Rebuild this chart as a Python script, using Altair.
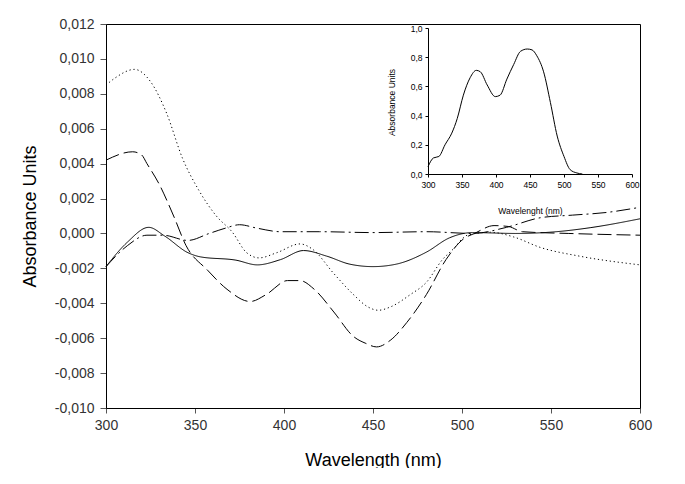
import altair as alt
import pandas as pd

# ---- main spectra (difference spectra) ----
wl_solid = [300, 312, 324, 333, 346, 353, 373, 385, 398, 411, 424, 437, 450, 463, 480, 493, 506, 530, 553, 572, 600]
ab_solid = [-0.0019, -0.0005, 0.00035, -0.00015, -0.0011, -0.00134, -0.00153, -0.0018, -0.0015, -0.00098, -0.0013,
            -0.00176, -0.0019, -0.00176, -0.00107, -0.00025, 0.00005, 0.0, 0.0001, 0.00033, 0.00084]

wl_dot = [300, 305, 316, 325, 334, 343, 352, 362, 371, 379, 386, 396, 409, 416, 428, 439, 447, 453, 460, 471, 480,
          489, 495, 503, 516, 529, 544, 566, 600]
ab_dot = [0.0085, 0.0089, 0.0094, 0.0087, 0.0069, 0.0043, 0.0025, 0.0010, 0.00007, -0.0011, -0.0014, -0.0011, -0.0006,
          -0.0009, -0.0023, -0.0035, -0.0042, -0.0044, -0.0042, -0.0035, -0.0028, -0.0015, -0.0009, -0.0001, 0.00007,
          -0.0002, -0.0008, -0.0013, -0.0018]

wl_dash = [300, 315, 320, 323, 330, 338, 345, 357, 368, 381, 390, 402, 409, 417, 428, 439, 446, 452, 460, 469, 480,
           491, 501, 507, 518, 526, 534, 560, 600]
ab_dash = [0.0042, 0.00468, 0.0045, 0.0040, 0.0028, 0.0010, -0.0007, -0.0021, -0.0032, -0.0039, -0.0035, -0.0027,
           -0.0027, -0.0032, -0.0045, -0.0059, -0.0063, -0.0065, -0.0061, -0.0051, -0.0035, -0.0015, -0.0003, 0.0,
           0.00045, 0.0004, 0.0001, 0.0, -0.0001]

wl_dashdot = [300, 312, 323, 332, 346, 358, 367, 375, 385, 398, 420, 450, 480, 506, 525, 544, 562, 581, 600]
ab_dashdot = [-0.0019, -0.0007, -0.0001, -0.0001, -0.0004, 0.0, 0.0003, 0.0005, 0.0003, 0.0001, 0.0001, 0.00005,
              0.0001, 0.0, 0.00035, 0.0009, 0.00105, 0.0012, 0.0015]

# ---- inset absorbance spectrum ----
wl_inset = [300, 308, 316, 325, 335, 343, 352, 362, 371, 377, 387, 399, 406, 416, 426, 436, 446, 453, 460, 470, 480,
            490, 500, 509, 519, 527]
ab_inset = [0.05, 0.11, 0.12, 0.20, 0.28, 0.38, 0.54, 0.66, 0.71, 0.70, 0.61, 0.53, 0.54, 0.65, 0.75, 0.84, 0.856,
            0.85, 0.81, 0.70, 0.49, 0.26, 0.12, 0.03, 0.007, 0.0]

series_names = ["solid", "dotted", "dashed", "dashdot"]
dash_patterns = [[1, 0], [1.2, 2.8], [14, 5], [14, 4, 2, 4]]

rows = []
for name, wls, vals in [("solid", wl_solid, ab_solid), ("dotted", wl_dot, ab_dot),
                        ("dashed", wl_dash, ab_dash), ("dashdot", wl_dashdot, ab_dashdot)]:
    for w, v in zip(wls, vals):
        rows.append({"series": name, "wl": w, "abs": v})
main_df = pd.DataFrame(rows)
inset_df = pd.DataFrame({"iwl": wl_inset, "ia": ab_inset})

x_ticks = [300, 350, 400, 450, 500, 550, 600]
y_ticks = [-0.010, -0.008, -0.006, -0.004, -0.002, 0.0, 0.002, 0.004, 0.006, 0.008, 0.010, 0.012]
inset_y_ticks = [0.0, 0.2, 0.4, 0.6, 0.8, 1.0]

FONT = "Liberation Sans"

main = alt.Chart(main_df).mark_line(color="black", strokeWidth=1, interpolate="monotone").encode(
    x=alt.X("wl:Q", scale=alt.Scale(domain=[300, 600], nice=False, zero=False),
            axis=alt.Axis(values=x_ticks, format="d", tickSize=5, labelPadding=5, labelFontSize=14,
                          labelColor="#333333", tickColor="#555555", domainColor="black", labelFlush=False,
                          title="Wavelength (nm)", titleFontSize=18, titleColor="black",
                          titleX=267, titleY=57, titleBaseline="alphabetic", titleAlign="center")),
    y=alt.Y("abs:Q", scale=alt.Scale(domain=[-0.010, 0.012], nice=False, zero=False),
            axis=alt.Axis(values=y_ticks, tickSize=6, labelPadding=6, labelFontSize=14,
                          labelColor="#333333", tickColor="#555555", domainColor="black", labelFlush=False,
                          labelExpr="(datum.value < -0.0000001 ? '-' : '') + replace(format(abs(datum.value), '.3f'), '.', ',')",
                          title="Absorbance Units", titleFontSize=18, titleColor="black",
                          titleX=-76, titleY=192, titleAngle=270, titleBaseline="middle", titleAlign="center")),
    strokeDash=alt.StrokeDash("series:N", scale=alt.Scale(domain=series_names, range=dash_patterns), legend=None),
)

inset = alt.Chart(inset_df).mark_line(color="black", strokeWidth=1, interpolate="monotone").encode(
    x=alt.X("iwl:Q", scale=alt.Scale(domain=[300, 600], range=[322, 526], nice=False, zero=False),
            axis=alt.Axis(orient="bottom", offset=-234, values=x_ticks, format="d", tickSize=3, labelPadding=3,
                          labelFontSize=8.5, labelColor="black", tickColor="black", domainColor="black",
                          labelFlush=False, title="Wavelenght (nm)", titleFontSize=8.5, titleColor="black",
                          titleX=424, titleY=36, titleBaseline="middle", titleAlign="center")),
    y=alt.Y("ia:Q", scale=alt.Scale(domain=[0, 1], range=[150, 4], nice=False, zero=False),
            axis=alt.Axis(orient="left", offset=-322, values=inset_y_ticks, tickSize=3, labelPadding=3,
                          labelFontSize=8.5, labelColor="black", tickColor="black", domainColor="black",
                          labelFlush=False, labelExpr="replace(format(datum.value, '.1f'), '.', ',')",
                          title="Absorbance Units", titleFontSize=8.5, titleColor="black",
                          titleX=-37, titleY=78, titleAngle=270, titleBaseline="middle", titleAlign="center")),
)

chart = alt.layer(main, inset).resolve_scale(x="independent", y="independent").properties(
    width=534, height=384,
    autosize=alt.AutoSizeParams(type="none"),
    padding={"left": 98, "top": 16, "right": 31, "bottom": 60},
).configure_axis(
    labelFont=FONT, titleFont=FONT, titleFontWeight="normal", grid=False
).configure_view(
    stroke="black", strokeWidth=1
)

chart.save("out.html", embed_options={"renderer": "svg", "actions": False})
